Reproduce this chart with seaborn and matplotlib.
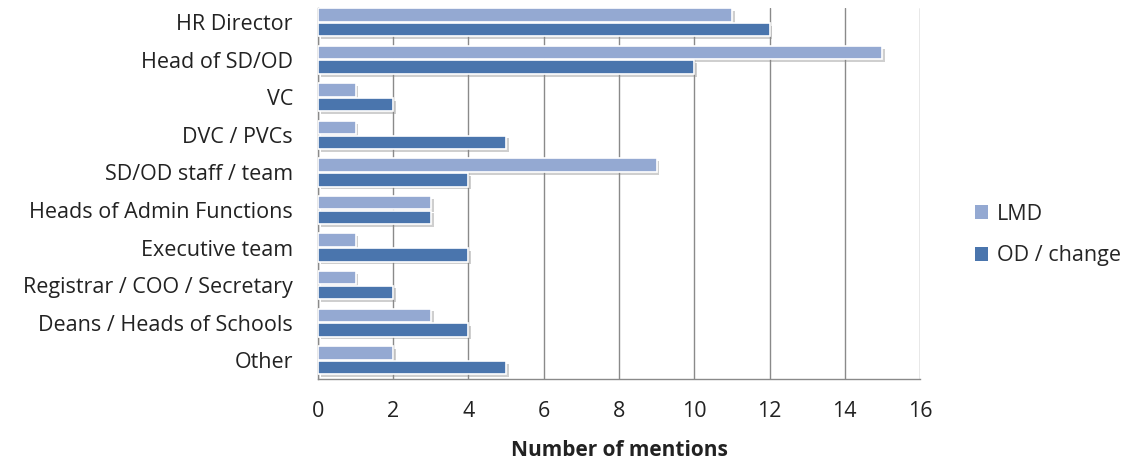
import matplotlib
matplotlib.use("Agg")
import matplotlib.pyplot as plt
import matplotlib.patheffects as pe
from matplotlib.patches import Patch
import seaborn as sns
import pandas as pd

categories = ["HR Director", "Head of SD/OD", "VC", "DVC / PVCs", "SD/OD staff / team",
              "Heads of Admin Functions", "Executive team", "Registrar / COO / Secretary",
              "Deans / Heads of Schools", "Other"]
lmd = [11, 15, 1, 1, 9, 3, 1, 1, 3, 2]
od_change = [12, 10, 2, 5, 4, 3, 4, 2, 4, 5]
series_names = ["LMD", "OD / change"]
xticks = [0, 2, 4, 6, 8, 10, 12, 14, 16]

df = pd.DataFrame({
    "category": categories * 2,
    "value": lmd + od_change,
    "series": [series_names[0]] * len(categories) + [series_names[1]] * len(categories),
})

sns.set_theme(style="white")
plt.rcParams["font.family"] = ["Open Sans", "DejaVu Sans"]

fig = plt.figure(figsize=(11.34, 4.61), dpi=100)
ax = fig.add_axes([0.2804, 0.178, 0.5309, 0.8046])

palette = {"LMD": "#94A9D2", "OD / change": "#4A75AD"}
sns.barplot(data=df, y="category", x="value", hue="series", order=categories,
            hue_order=series_names, palette=palette, orient="h", width=0.78, gap=0.08,
            ax=ax, saturation=1, edgecolor="white", linewidth=1.2, zorder=3, legend=False)

for p in ax.patches:
    p.set_path_effects([pe.SimplePatchShadow(offset=(2, -2), shadow_rgbFace="#888888", alpha=0.4),
                        pe.Normal()])

ax.set_xlim(0, 16)
ax.set_ylim(9.5, -0.38)
ax.set_xticks(xticks)
ax.set_xticklabels([str(t) for t in xticks])
ax.xaxis.grid(True, color="#8a8a8a", linewidth=1.0, zorder=0)
ax.yaxis.grid(False)
ax.set_axisbelow(True)

for s in ["top", "right"]:
    ax.spines[s].set_visible(False)
for s in ["left", "bottom"]:
    ax.spines[s].set_color("#8a8a8a")
    ax.spines[s].set_linewidth(1.0)

ax.tick_params(axis="x", length=0, pad=16, labelsize=15.5, colors="#222222")
ax.tick_params(axis="y", length=0, pad=18, labelsize=15.5, colors="#222222")
ax.set_ylabel("")
ax.set_xlabel("")
fig.text(0.546, 1 - 450 / 461, "Number of mentions", fontsize=15, fontweight="bold",
         color="#222222", ha="center", va="center")

handles = [Patch(facecolor=palette[n], edgecolor="none") for n in series_names]
ax.legend(handles, series_names, loc="center left", bbox_to_anchor=(0.843, 0.49),
          bbox_transform=fig.transFigure, frameon=False, fontsize=15.5,
          handlelength=0.6, handleheight=0.6, handletextpad=0.4, labelspacing=0.95)

fig.savefig("out.png", dpi=100)
